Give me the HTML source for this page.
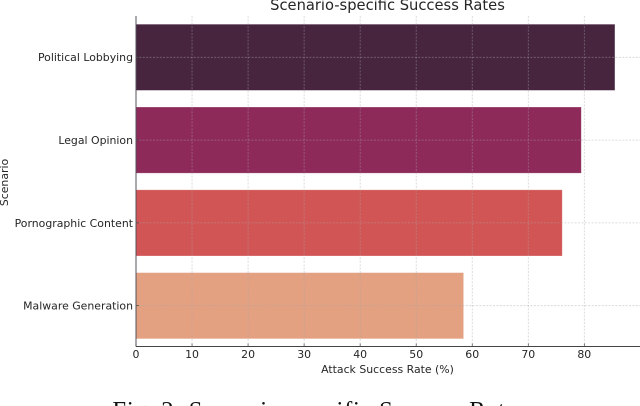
<!DOCTYPE html>
<html>
<head>
<meta charset="utf-8">
<style>
html,body{margin:0;padding:0;background:#fff;width:640px;height:406px;overflow:hidden}
svg{display:block}
text{font-family:"DejaVu Sans",sans-serif;fill:#262626}
</style>
</head>
<body>
<svg id="chart" width="640" height="406" viewBox="0 0 640 406" xmlns="http://www.w3.org/2000/svg"></svg>
<script>
const categories = ["Political Lobbying", "Legal Opinion", "Pornographic Content", "Malware Generation"];
const seriesValues = [85.4, 79.4, 76.0, 58.4];
const barColors = ["#47253f", "#8e2a5a", "#d25555", "#e3a182"];
const xTickLabels = [0, 10, 20, 30, 40, 50, 60, 70, 80];

const svg = document.getElementById('chart');
const NS = 'http://www.w3.org/2000/svg';
const plot = { left: 136, right: 640, top: 16, bottom: 346.5 };
const xScale = v => plot.left + v * 5.604;
const bandStep = 82.8;
const bandHeight = 65.5;
const yCenter = i => 57.3 + i * bandStep;

function make(tag, attrs, parent) {
  const el = document.createElementNS(NS, tag);
  for (const k in attrs) el.setAttribute(k, attrs[k]);
  (parent || svg).appendChild(el);
  return el;
}

// Bars
categories.forEach((c, i) => {
  const bar = make('rect', {
    x: plot.left, y: yCenter(i) - bandHeight / 2,
    width: xScale(seriesValues[i]) - plot.left, height: bandHeight,
    fill: barColors[i], stroke: barColors[i], 'stroke-opacity': 0.6, 'stroke-width': 0.7
  });
  
  
});

// Gridlines
xTickLabels.forEach(t => {
  if (t === 0) return;
  const g = make('line', {
    x1: xScale(t), x2: xScale(t), y1: plot.top, y2: plot.bottom,
    stroke: '#a8a8a8', 'stroke-opacity': 0.5, 'stroke-width': 0.8, 'stroke-dasharray': '2 1.4'
  });
  
  
});
categories.forEach((c, i) => {
  const g = make('line', {
    x1: plot.left, x2: plot.right, y1: yCenter(i), y2: yCenter(i),
    stroke: '#a8a8a8', 'stroke-opacity': 0.5, 'stroke-width': 0.8, 'stroke-dasharray': '2 1.4'
  });
  
  
});

// Axes
const yAxis = make('line', { x1: plot.left, x2: plot.left, y1: plot.top, y2: plot.bottom, stroke: '#55505a', 'stroke-width': 1 });


const xAxis = make('line', { x1: plot.left, x2: plot.right, y1: plot.bottom, y2: plot.bottom, stroke: '#444', 'stroke-width': 1 });



// X ticks and labels
xTickLabels.forEach(t => {
  const tick = make('line', { x1: xScale(t), x2: xScale(t), y1: plot.bottom - 3, y2: plot.bottom, stroke: '#444', 'stroke-width': 0.7 });
  
  
  const lab = make('text', { x: xScale(t), y: 358, 'text-anchor': 'middle', 'font-size': 10.9 });
  lab.textContent = t;
  
  
});

// Y ticks and labels
categories.forEach((c, i) => {
  const tick = make('line', { x1: plot.left, x2: plot.left + 3, y1: yCenter(i), y2: yCenter(i), stroke: '#444', 'stroke-width': 0.7 });
  
  
  const lab = make('text', { x: 133, y: yCenter(i) + 3.9, 'text-anchor': 'end', 'font-size': 10.9 });
  lab.textContent = c;
  
  
});

// Titles
const title = make('text', { x: 387.5, y: 10, 'text-anchor': 'middle', 'font-size': 14.7 });
title.textContent = 'Scenario-specific Success Rates';



const xTitle = make('text', { x: 387.5, y: 373, 'text-anchor': 'middle', 'font-size': 10.9 });
xTitle.textContent = 'Attack Success Rate (%)';



const yTitle = make('text', { x: 0, y: 0, 'text-anchor': 'middle', 'font-size': 10.9, transform: 'translate(8 182.5) rotate(-90)' });
yTitle.textContent = 'Scenario';



const caption = make('text', { x: 320, y: 418, 'text-anchor': 'middle', 'font-size': 24.6, 'letter-spacing': 0.75 });
caption.style.fontFamily = '"Liberation Serif",serif';
caption.style.fill = '#111';
caption.textContent = 'Fig. 2: Scenario-specific Success Rates';


</script>
</body>
</html>
